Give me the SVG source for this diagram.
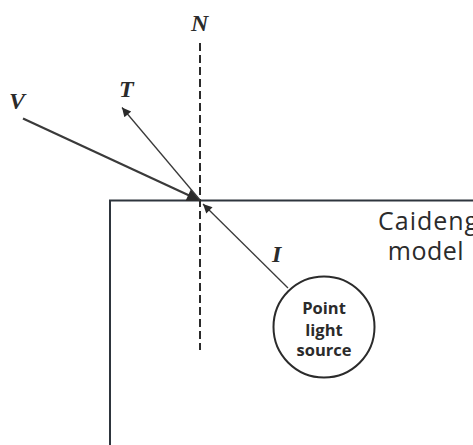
<svg xmlns="http://www.w3.org/2000/svg" width="473" height="445" viewBox="0 0 473 445">
  <style>
    .vec { font-family: "Liberation Serif", serif; font-style: italic; font-weight: bold; font-size: 24px; fill: #2b2b2b; }
    .ray { stroke: #3a3a3a; fill: none; }
    .lbl { font-family: "Open Sans", "Noto Sans", sans-serif; fill: #2b2b2b; }
  </style>
  <defs>
    <marker id="head" viewBox="0 0 10 10" refX="10" refY="5" markerWidth="11" markerHeight="9" markerUnits="userSpaceOnUse" orient="auto">
      <path d="M0,0 L10,5 L0,10 z" fill="#2b2b2b"/>
    </marker>
    <marker id="headV" viewBox="0 0 10 10" refX="10" refY="5" markerWidth="18" markerHeight="13" markerUnits="userSpaceOnUse" orient="auto">
      <path d="M0,0 L10,5 L0,10 z" fill="#2b2b2b"/>
    </marker>
  </defs>

  <!-- object surface -->
  <g id="model">
    <path d="M110,445 L110,200.5 L473,200.5" fill="none" stroke="#2e353d" stroke-width="2"/>
    <text class="lbl" x="378" y="230" font-size="25" letter-spacing="1">Caideng</text>
    <text class="lbl" x="426" y="260" font-size="25" letter-spacing="0.5" text-anchor="middle">model</text>
  </g>

  <!-- light source -->
  <g id="light">
    <circle cx="324" cy="327" r="50.5" fill="#fff" stroke="#2b2b2b" stroke-width="2"/>
    <text class="lbl" x="324" y="314" font-size="16.5" font-weight="bold" text-anchor="middle">Point</text>
    <text class="lbl" x="324" y="335.5" font-size="16.5" font-weight="bold" text-anchor="middle">light</text>
    <text class="lbl" x="324" y="356" font-size="16.5" font-weight="bold" text-anchor="middle">source</text>
  </g>

  <!-- vectors -->
  <g id="connectors">
    <line x1="200" y1="43" x2="200" y2="350" stroke="#2b2b2b" stroke-width="2" stroke-dasharray="8,4"/>
    <line class="ray" x1="23" y1="118.5" x2="200" y2="200.5" stroke-width="2.2" marker-end="url(#headV)"/>
    <line class="ray" x1="200" y1="200" x2="122" y2="107.5" stroke-width="1.3" marker-end="url(#head)"/>
    <line class="ray" x1="288" y1="288" x2="203" y2="204" stroke-width="1.3" marker-end="url(#head)"/>
  </g>

  <g id="labels">
    <text class="vec" x="191" y="31">N</text>
    <text class="vec" x="119" y="97">T</text>
    <text class="vec" x="9" y="109">V</text>
    <text class="vec" x="272" y="262">I</text>
  </g>
</svg>
